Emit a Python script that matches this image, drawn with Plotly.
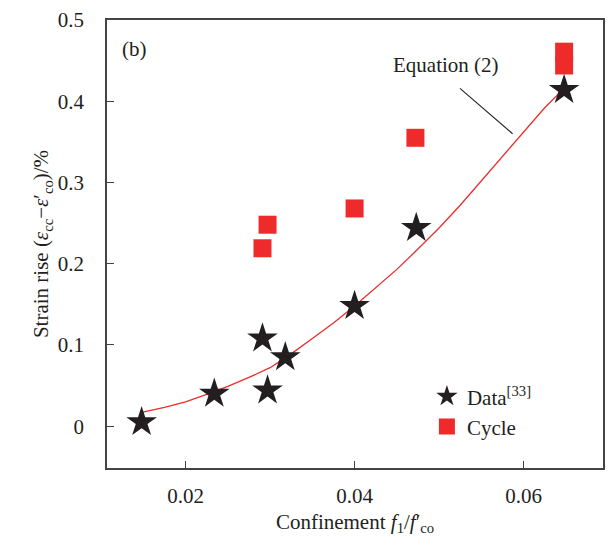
import plotly.graph_objects as go

# Data
data_x = [0.0148, 0.0234, 0.0291, 0.0297, 0.0318, 0.0400, 0.0473, 0.0648]
data_y = [0.005, 0.040, 0.108, 0.044, 0.085, 0.148, 0.244, 0.414]

cycle_x = [0.0291, 0.0297, 0.0400, 0.0472, 0.0648, 0.0648]
cycle_y = [0.219, 0.248, 0.268, 0.355, 0.444, 0.461]

eq_x = [0.0148, 0.0175, 0.0200, 0.0225, 0.0250, 0.0275, 0.0300, 0.0325, 0.0350, 0.0375,
        0.0400, 0.0425, 0.0450, 0.0475, 0.0500, 0.0525, 0.0550, 0.0575, 0.0600, 0.0625, 0.0650]
eq_y = [0.017, 0.023, 0.030, 0.039, 0.049, 0.060, 0.072, 0.089, 0.108, 0.127,
        0.148, 0.170, 0.193, 0.218, 0.244, 0.272, 0.302, 0.333, 0.362, 0.392, 0.418]

x_ticks = [0.02, 0.04, 0.06]
x_tick_text = ["0.02", "0.04", "0.06"]
y_ticks = [0, 0.1, 0.2, 0.3, 0.4, 0.5]
y_tick_text = ["0", "0.1", "0.2", "0.3", "0.4", "0.5"]

FONT = "Liberation Serif, Times New Roman, serif"
TXT = "#231f20"
FS = 21

fig = go.Figure()
fig.add_trace(go.Scatter(x=eq_x, y=eq_y, mode="lines", line=dict(color="#ee2a2a", width=1.3),
                         showlegend=False, hoverinfo="skip"))
fig.add_trace(go.Scatter(x=data_x, y=data_y, mode="markers", name="Data<sup>[33]</sup>",
                         legendgroup="a",
                         marker=dict(symbol="star", size=23, color="#231f20", line=dict(width=0))))
fig.add_trace(go.Scatter(x=cycle_x, y=cycle_y, mode="markers", name="Cycle",
                         legendgroup="b",
                         marker=dict(symbol="square", size=18, color="#ee2a2a", line=dict(width=0))))

# annotation leader line and label
fig.add_annotation(x=0.0587, y=0.360, ax=0.0520, ay=0.420, xref="x", yref="y", axref="x", ayref="y",
                   showarrow=True, arrowhead=0, arrowwidth=1.1, arrowcolor="#231f20", text=" ")
fig.add_annotation(x=0.0508, y=0.445, xref="x", yref="y", text="Equation (2)", showarrow=False,
                   font=dict(family=FONT, size=FS, color=TXT))
fig.add_annotation(x=0.0139, y=0.464, xref="x", yref="y", text="(b)", showarrow=False,
                   font=dict(family=FONT, size=FS, color=TXT))

axis_common = dict(showline=True, mirror=True, linecolor="#444444", linewidth=1.5,
                   ticks="inside", ticklen=7, tickwidth=1.2, tickcolor="#444444",
                   showgrid=False, zeroline=False, automargin=True,
                   tickfont=dict(family=FONT, size=FS, color=TXT))

fig.update_xaxes(range=[0.0107, 0.0694], tickvals=x_ticks, ticktext=x_tick_text,
                 ticklabelstandoff=8,
                 title=dict(text="Confinement <i>f</i><sub>1</sub>/<i>f</i>′<sub>co</sub>",
                            font=dict(family=FONT, size=FS, color=TXT), standoff=7),
                 **axis_common)
fig.update_yaxes(range=[-0.0515, 0.5], tickvals=y_ticks, ticktext=y_tick_text,
                 ticklabelstandoff=17,
                 title=dict(text="Strain rise (<i>ε</i><sub>cc</sub>−<i>ε</i>′<sub>co</sub>)/%",
                            font=dict(family=FONT, size=FS, color=TXT), standoff=3),
                 **axis_common)

fig.update_layout(
    width=613, height=546,
    margin=dict(l=107, r=8, t=18, b=78),
    plot_bgcolor="white", paper_bgcolor="white",
    font=dict(family=FONT, size=FS, color=TXT),
    legend=dict(x=0.645, y=0.205, xanchor="left", yanchor="top", bgcolor="rgba(0,0,0,0)",
                traceorder="grouped", tracegroupgap=0,
                font=dict(family=FONT, size=FS, color=TXT)),
)

fig.write_html("out.html")
